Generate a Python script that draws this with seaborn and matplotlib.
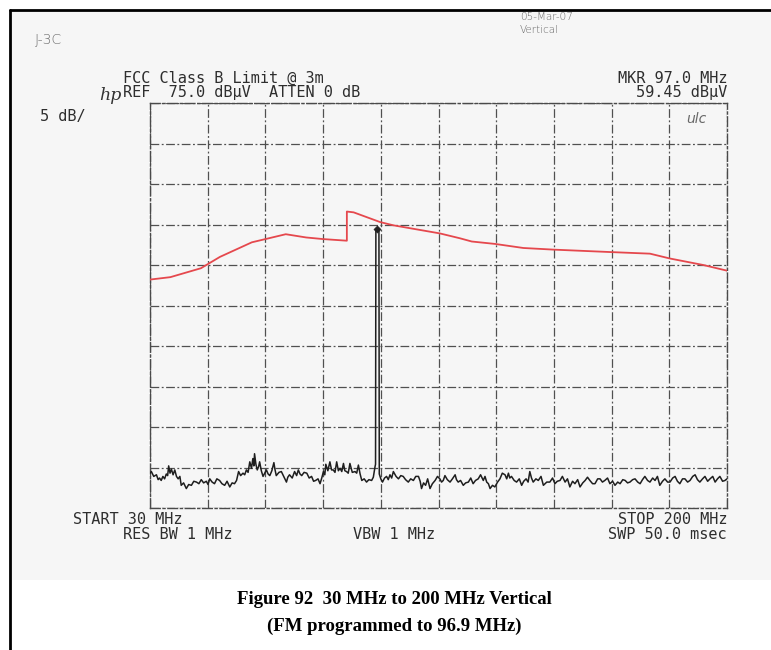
import matplotlib
matplotlib.use("Agg")
import matplotlib.pyplot as plt
from matplotlib.lines import Line2D
from matplotlib.patches import Rectangle
import pandas as pd
import seaborn as sns

# FCC Class B limit line (dBuV), frequency in MHz
limit_freq = [30, 36, 45, 50.6, 60, 64, 70, 76, 81, 88, 88, 90, 97.8, 101.7,
              115.4, 121.3, 124.8, 131.7, 140, 148.8, 165.5, 177.3, 183.2, 193, 200]
limit_db = [53.2, 53.5, 54.6, 56.0, 57.8, 58.2, 58.8, 58.4, 58.2, 58.0, 61.6, 61.5, 60.3, 59.9,
            58.9, 58.3, 57.9, 57.6, 57.1, 56.9, 56.6, 56.4, 55.8, 55.0, 54.3]

# Measured sweep trace (dBuV), frequency in MHz
trace_freq = [
    30.0, 30.4, 31.1, 31.9, 32.4, 32.8, 33.3, 33.8, 34.3, 34.8, 35.2, 35.5, 35.9, 36.3, 36.8,
    37.3, 37.8, 38.3, 38.8, 39.2, 39.9, 40.7, 41.4, 42.2, 42.9, 43.7, 44.4, 45.1, 45.8, 46.6,
    47.1, 47.6, 48.3, 49.0, 49.7, 50.5, 51.2, 52.0, 52.7, 53.5, 54.2, 54.9, 55.5, 56.1, 56.7,
    57.4, 57.9, 58.4, 58.9, 59.4, 59.9, 60.3, 60.6, 60.8, 61.2, 61.6, 62.0, 62.3, 62.8, 63.3,
    63.8, 64.3, 64.8, 65.3, 65.9, 66.5, 66.8, 67.2, 68.0, 68.7, 69.4, 70.2, 70.6, 71.1, 71.9,
    72.6, 73.2, 73.7, 74.2, 74.7, 75.4, 76.2, 76.9, 77.6, 78.2, 78.8, 79.5, 80.1, 80.6, 81.1,
    81.5, 81.8, 82.4, 83.0, 83.5, 84.0, 84.5, 85.0, 85.5, 86.0, 86.5, 87.0, 87.4, 87.9, 88.4,
    88.9, 89.6, 90.4, 90.9, 91.4, 91.9, 92.4, 93.1, 93.8, 94.5, 95.3, 95.8, 96.3, 96.45, 96.55,
    97.0, 97.45, 97.55, 98.0, 98.5, 99.1, 99.7, 100.2, 100.7, 101.2, 101.7, 102.5, 103.2, 103.9,
    104.6, 105.3, 106.1, 106.8, 107.6, 108.3, 109.1, 109.6, 110.0, 110.6, 111.2, 111.8, 112.5,
    113.2, 114.0, 114.7, 115.4, 115.9, 116.4, 116.9, 117.6, 118.4, 119.1, 119.9, 120.3, 120.8,
    121.5, 122.3, 123.0, 123.8, 124.5, 125.2, 125.9, 126.7, 127.4, 128.2, 128.7, 129.2, 129.7,
    130.2, 130.9, 131.6, 132.4, 133.1, 133.8, 134.6, 135.1, 135.6, 136.0, 136.5, 137.3, 138.0,
    138.8, 139.5, 140.1, 140.8, 141.4, 141.9, 142.4, 142.9, 143.7, 144.4, 145.2, 145.9, 146.9,
    147.8, 148.6, 149.3, 150.0, 150.8, 151.5, 152.3, 153.0, 153.7, 154.5, 155.2, 156.0, 156.7,
    157.5, 158.2, 158.9, 159.6, 160.4, 161.1, 161.9, 162.6, 163.3, 164.0, 164.8, 165.5, 166.3,
    167.0, 167.8, 168.5, 169.3, 170.0, 170.7, 171.4, 172.2, 172.9, 173.7, 174.4, 175.1, 175.8,
    176.6, 177.3, 178.1, 178.8, 179.5, 180.2, 181.0, 181.7, 182.5, 183.2, 184.0, 184.7, 185.4,
    186.1, 186.9, 187.6, 188.4, 189.1, 189.9, 190.6, 191.3, 192.0, 192.8, 193.5, 194.3, 195.0,
    195.8, 196.5, 197.2, 197.9, 198.7, 199.4, 200.0]
trace_db = [
    29.3, 29.5, 28.9, 29.1, 28.5, 28.7, 28.4, 28.9, 28.6, 29.2, 29.0, 30.2, 29.3, 29.8, 29.1,
    29.7, 28.9, 28.6, 28.9, 27.8, 28.1, 27.4, 27.9, 27.8, 28.3, 28.2, 28.0, 28.5, 28.1, 28.3,
    27.9, 28.6, 28.2, 28.0, 28.6, 28.4, 28.0, 27.8, 28.3, 27.6, 28.1, 28.0, 28.4, 29.5, 29.0,
    29.3, 29.1, 29.7, 29.4, 30.7, 29.9, 31.1, 30.2, 31.7, 30.4, 29.7, 30.1, 30.7, 29.6, 28.9,
    29.3, 29.7, 29.2, 29.0, 29.6, 30.6, 29.8, 29.0, 29.4, 29.5, 28.9, 28.2, 28.8, 29.1, 28.7,
    29.5, 29.0, 29.7, 29.2, 29.0, 29.4, 29.3, 28.7, 28.9, 28.3, 28.4, 28.6, 28.0, 28.7, 29.5,
    29.1, 30.4, 29.6, 30.7, 29.7, 29.7, 29.4, 30.7, 29.6, 29.9, 29.5, 30.5, 29.6, 29.5, 29.3,
    30.5, 29.4, 29.5, 29.3, 30.3, 29.2, 28.4, 28.6, 28.2, 28.5, 28.4, 28.8, 30.1, 30.4, 59.2,
    59.45, 59.2, 29.2, 28.6, 28.2, 28.7, 28.9, 28.5, 29.1, 28.7, 29.5, 28.9, 28.6, 29.0,
    28.9, 28.5, 28.2, 28.6, 28.4, 28.9, 28.9, 28.3, 27.4, 28.1, 27.8, 28.6, 27.4,
    28.0, 28.4, 28.9, 28.6, 28.2, 28.4, 29.0, 28.5, 28.2, 28.6, 29.1, 28.5, 28.2,
    28.4, 27.8, 28.1, 28.2, 28.7, 28.0, 28.4, 28.6, 29.1, 28.4, 28.9, 28.2, 28.0,
    27.4, 27.8, 27.6, 28.2, 28.6, 29.3, 29.1, 28.6, 29.3, 28.7, 28.9, 28.4, 28.2,
    28.6, 27.8, 28.3, 28.6, 28.2, 29.5, 28.7, 28.2, 28.6, 28.4, 28.9, 27.8, 28.2,
    28.2, 28.7, 28.0, 28.3, 28.4, 28.9, 28.2, 28.6, 27.6, 28.3, 28.0, 28.5, 27.6,
    28.1, 28.4, 28.8, 28.4, 28.0, 28.0, 28.6, 28.6, 28.2, 28.4, 28.7, 28.0, 28.3,
    27.8, 28.2, 28.0, 28.5, 28.4, 28.1, 28.2, 28.5, 28.6, 28.2, 28.0, 28.5, 28.9,
    28.4, 28.2, 28.7, 28.4, 28.9, 27.8, 28.3, 28.6, 28.2, 28.2, 28.7, 28.9, 28.3,
    28.0, 28.6, 28.6, 28.2, 28.4, 28.9, 29.1, 28.5, 28.2, 28.6, 28.9, 28.3, 28.6,
    28.9, 28.2, 28.6, 28.9, 28.3, 28.4, 28.6]

marker_freq = [97.0]
marker_db = [59.45]

W, H = 771, 650
fig = plt.figure(figsize=(W / 100, H / 100), dpi=100)
sns.set_style("white")
plt.rcParams["font.family"] = ["DejaVu Sans"]


def px(x, y):
    return x / W, 1 - y / H


# scanned sheet background and frame
fig.patches.append(Rectangle(px(10, 580), (W - 10) / W, 570 / H, transform=fig.transFigure,
                             facecolor="#f6f6f6", edgecolor="none", zorder=-5))
fig.lines.append(Line2D([10 / W, 10 / W], [0, 1 - 10 / H], transform=fig.transFigure,
                        color="black", lw=2.0, zorder=-4))
fig.lines.append(Line2D([10 / W, 1], [1 - 10 / H, 1 - 10 / H], transform=fig.transFigure,
                        color="black", lw=2.0, zorder=-4))

ax = fig.add_axes([150 / W, 1 - 508 / H, 577 / W, 405 / H])
ax.set_facecolor("none")
ax.set_zorder(1)

limit_df = pd.DataFrame({"freq": limit_freq, "level": limit_db})
trace_df = pd.DataFrame({"freq": trace_freq, "level": trace_db})

sns.lineplot(data=limit_df, x="freq", y="level", ax=ax, color="#e5484d", lw=1.3,
             estimator=None, sort=False, errorbar=None, zorder=3)
sns.lineplot(data=trace_df, x="freq", y="level", ax=ax, color="#1e1e1e", lw=1.1,
             estimator=None, sort=False, errorbar=None, zorder=4)
sns.scatterplot(x=marker_freq, y=marker_db, ax=ax, marker="D", s=14, color="#222222",
                edgecolor="#222222", zorder=5)

ax.set_xlim(30, 200)
ax.set_ylim(25, 75)
ax.set_xticks([30 + 17 * i for i in range(11)])
ax.set_yticks([25 + 5 * i for i in range(11)])
ax.set_xticklabels([])
ax.set_yticklabels([])
ax.tick_params(length=0)
ax.set_xlabel("")
ax.set_ylabel("")
grid_style = dict(color="#505050", lw=0.9, linestyle=(0, (7, 2, 1.5, 2)))
ax.grid(True, **grid_style)
for sp in ax.spines.values():
    sp.set_visible(True)
    sp.set_color("#4a4a4a")
    sp.set_linewidth(1.0)
    sp.set_linestyle((0, (7, 2, 1.5, 2)))

mono = dict(family="DejaVu Sans Mono", fontsize=11, color="#2e2e2e")

fig.text(*px(123, 83), "FCC Class B Limit @ 3m", ha="left", va="baseline", **mono)
fig.text(*px(123, 97.5), "REF  75.0 dB\u00b5V  ATTEN 0 dB", ha="left", va="baseline", **mono)
fig.text(*px(727, 83), "MKR 97.0 MHz", ha="right", va="baseline", **mono)
fig.text(*px(727, 97.5), "59.45 dB\u00b5V", ha="right", va="baseline", **mono)
fig.text(*px(40, 121), "5 dB/", ha="left", va="baseline", **mono)
fig.text(*px(73, 524), "START 30 MHz", ha="left", va="baseline", **mono)
fig.text(*px(727, 524), "STOP 200 MHz", ha="right", va="baseline", **mono)
fig.text(*px(123, 539), "RES BW 1 MHz", ha="left", va="baseline", **mono)
fig.text(*px(353, 539), "VBW 1 MHz", ha="left", va="baseline", **mono)
fig.text(*px(727, 539), "SWP 50.0 msec", ha="right", va="baseline", **mono)

fig.text(*px(99, 100), "hp", ha="left", va="baseline", family="DejaVu Serif",
         style="italic", fontsize=12.5, color="#333333")

hand = dict(family="DejaVu Sans", fontweight="light", color="#686868")
fig.text(*px(35, 40), "J-3C", ha="left", va="center", fontsize=10, **hand)
fig.text(*px(520, 17), "05-Mar-07", ha="left", va="center", fontsize=7.5, **hand)
fig.text(*px(520, 30), "Vertical", ha="left", va="center", fontsize=7.5, **hand)
fig.text(*px(686, 119), "ulc", ha="left", va="center", fontsize=10, style="italic", **hand)

cap = dict(family="Liberation Serif", fontweight="bold", fontsize=13.5, color="black")
fig.text(*px(394, 599), "Figure 92  30 MHz to 200 MHz Vertical", ha="center", va="center", **cap)
fig.text(*px(394, 626), "(FM programmed to 96.9 MHz)", ha="center", va="center", **cap)

fig.savefig("out.png", dpi=100)
